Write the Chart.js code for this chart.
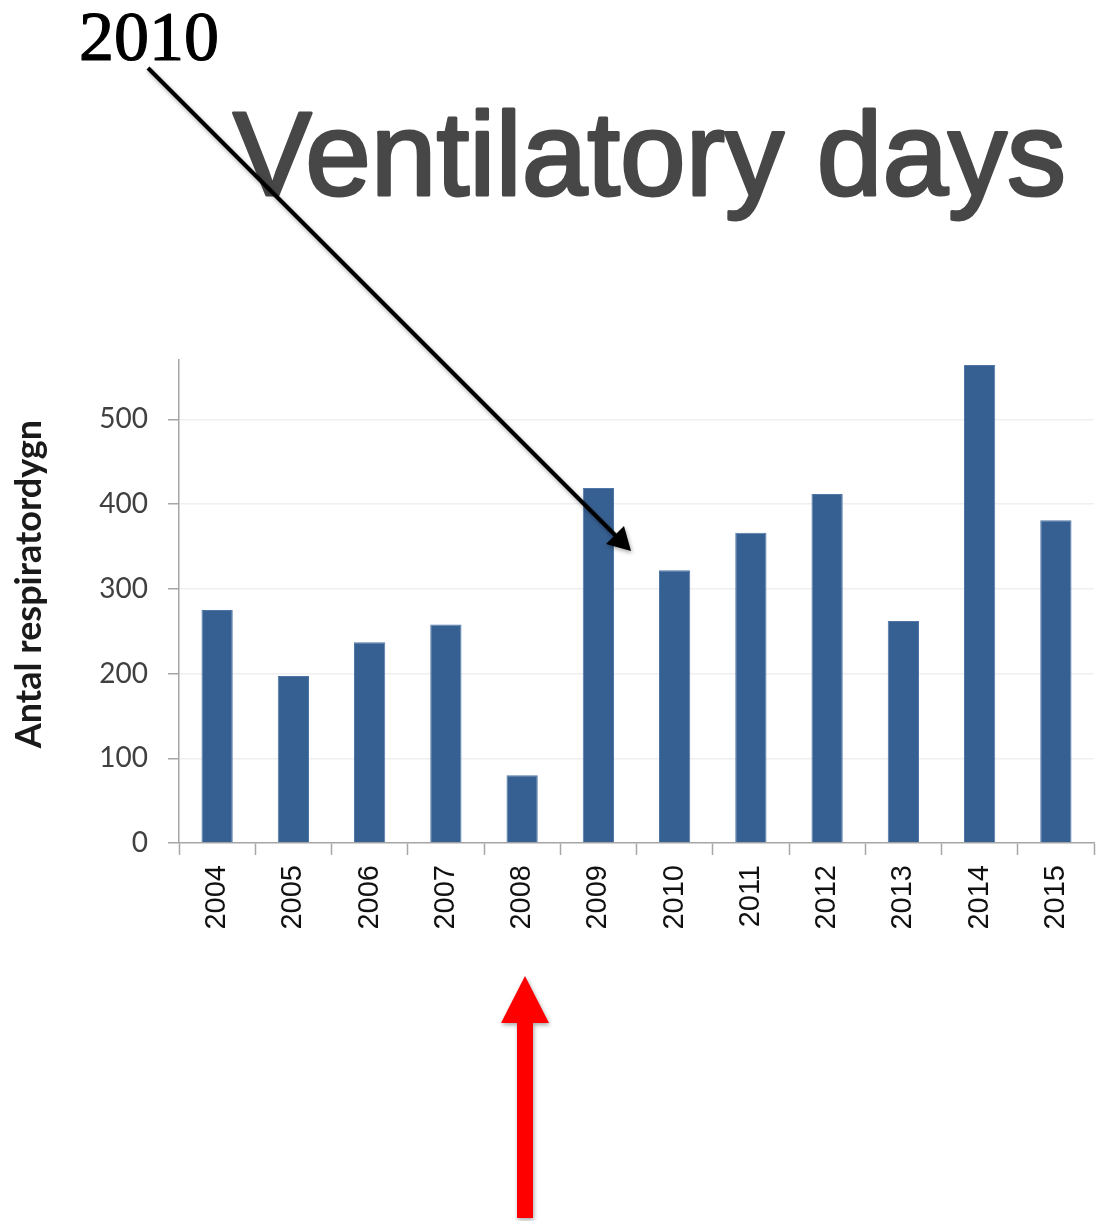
<!DOCTYPE html>
<html>
<head>
<meta charset="utf-8">
<script src="https://cdn.jsdelivr.net/npm/chart.js@4.4.0/dist/chart.umd.min.js"></script>
<style>
  html, body { margin: 0; padding: 0; background: #fff; overflow: hidden; }
  #wrap { width: 1098px; height: 1221px; position: relative; }
</style>
</head>
<body>
<div id="wrap"><canvas id="myChart"></canvas></div>
<script>
const years = ['2004','2005','2006','2007','2008','2009','2010','2011','2012','2013','2014','2015']
const ventDays = [275, 197, 237, 258, 80, 419, 322, 366, 412, 262, 564, 381]
const yTicks = [0, 100, 200, 300, 400, 500]
const yMax = 570

const titleText = 'Ventilatory days'
const yTitle = 'Antal respiratordygn'
const noteText = '2010'

// draws title, y title and the two arrows over the chart
const overlay = {
  id: 'overlay',
  afterDraw(chart) {
    const ctx = chart.ctx
    ctx.save()

    ctx.fillStyle = '#474747'
    ctx.strokeStyle = '#474747'
    ctx.lineWidth = 3
    ctx.lineJoin = 'round'
    ctx.font = '118px "Liberation Sans", Arial, sans-serif'
    ctx.textBaseline = 'alphabetic'
    ctx.textAlign = 'left'
    ctx.fillText(titleText, 233, 195)
    ctx.strokeText(titleText, 233, 195)

    ctx.save()
    ctx.translate(41, 584)
    ctx.rotate(-Math.PI / 2)
    ctx.fillStyle = '#1a1a1a'
    ctx.font = 'bold 36px Lato, sans-serif'
    ctx.textAlign = 'center'
    ctx.fillText(yTitle, 0, 0)
    ctx.restore()

    ctx.fillStyle = '#000'
    ctx.strokeStyle = '#000'
    ctx.lineWidth = 1.2
    ctx.font = '70px "Liberation Serif", serif'
    ctx.textAlign = 'left'
    ctx.fillText(noteText, 79, 60)
    ctx.strokeText(noteText, 79, 60)

    // black arrow
    ctx.shadowColor = 'rgba(0,0,0,0.35)'
    ctx.shadowBlur = 4
    ctx.shadowOffsetX = 1
    ctx.shadowOffsetY = 2
    ctx.strokeStyle = '#000'
    ctx.lineWidth = 4
    ctx.beginPath()
    ctx.moveTo(148, 68)
    ctx.lineTo(618, 538)
    ctx.stroke()
    ctx.beginPath()
    const tip = [631, 551]
    ctx.moveTo(tip[0], tip[1])
    ctx.lineTo(tip[0] - 25, tip[1] - 7)
    ctx.lineTo(tip[0] - 7, tip[1] - 25)
    ctx.closePath()
    ctx.fill()

    // red arrow
    ctx.fillStyle = '#ff0000'
    ctx.beginPath()
    ctx.moveTo(517, 1218)
    ctx.lineTo(517, 1023)
    ctx.lineTo(501, 1023)
    ctx.lineTo(525, 976)
    ctx.lineTo(549, 1023)
    ctx.lineTo(533, 1023)
    ctx.lineTo(533, 1218)
    ctx.closePath()
    ctx.fill()

    ctx.restore()
  }
}

const ctx = document.getElementById('myChart').getContext('2d')
const myChart = new Chart(ctx, {
  type: 'bar',
  data: {
    labels: years,
    datasets: [
      {
        label: yTitle,
        data: ventDays,
        backgroundColor: '#376092',
        borderColor: '#4f76a6',
        borderWidth: 1,
        categoryPercentage: 1,
        barPercentage: 0.41,
      },
    ]
  },
  options: {
    responsive: true,
    maintainAspectRatio: false,
    animation: false,
    layout: {
      padding: { left: 0, top: 360, right: 4, bottom: 0 }
    },
    scales: {
      x: {
        afterFit: (scale) => {
          scale.height = 378
          scale.paddingLeft = 0
          scale.paddingRight = 0
        },
        grid: {
          drawOnChartArea: false,
          tickLength: 12,
          tickColor: '#a6a6a6',
          tickWidth: 1.5,
        },
        border: { color: '#a6a6a6', width: 1.5 },
        ticks: {
          minRotation: 90,
          maxRotation: 90,
          padding: 10,
          color: '#111',
          font: { family: '"Liberation Sans", Arial, sans-serif', size: 29 },
        }
      },
      y: {
        min: 0,
        max: yMax,
        afterFit: (scale) => { scale.width = 179 },
        afterBuildTicks: (scale) => { scale.ticks = yTicks.map(v => ({ value: v })) },
        grid: {
          color: (c) => c.tick && c.tick.value === 0 ? 'rgba(0,0,0,0)' : '#efefef',
          lineWidth: 1.5,
          tickLength: 11,
          tickColor: '#a6a6a6',
          tickWidth: 1.5,
        },
        border: { color: '#a6a6a6', width: 1.5 },
        ticks: {
          padding: 20,
          color: '#404040',
          font: { family: 'Lato, sans-serif', size: 28 },
        }
      }
    },
    plugins: {
      legend: { display: false },
      title: { display: false },
      tooltip: { enabled: false },
    }
  },
  plugins: [overlay]
})
</script>
</body>
</html>
